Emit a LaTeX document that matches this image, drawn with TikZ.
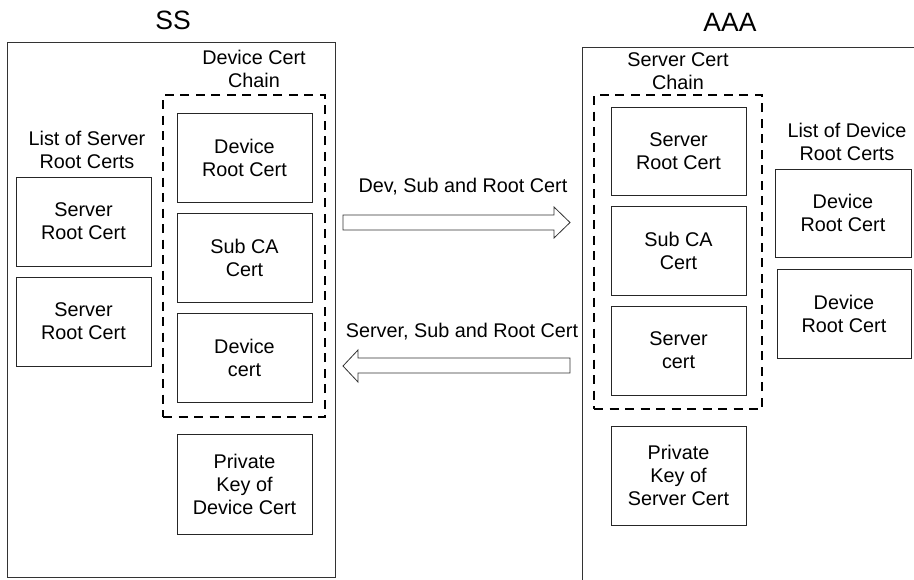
\documentclass[tikz,border=0pt]{standalone}
\usepackage{fontspec}
\setmainfont{Liberation Sans}
\begin{document}
\begin{tikzpicture}[x=1pt,y=-1pt,
  box/.style={draw=black!85, line width=0.8pt, minimum width=135pt, minimum height=89pt, inner sep=0pt, align=center, font=\fontsize{19.8}{23}\selectfont},
  lbl/.style={align=center, font=\fontsize{19.8}{23}\selectfont, inner sep=0pt},
  ttl/.style={font=\fontsize{26.5}{30}\selectfont, inner sep=0pt},
  chain/.style={draw=black, line width=1.4pt, dash pattern=on 9pt off 6.5pt, inner sep=0pt},
  panel/.style={draw=black!80, line width=0.8pt, inner sep=0pt},
  barrow/.style={draw=black!80, line width=0.8pt, fill=white}]
\useasboundingbox (0,0) rectangle (914,579);
\clip (0,0) rectangle (914,579);
\fill[white] (0,0) rectangle (914,579);
% titles
\node[ttl] (ssT) at (173,20) {SS};
\node[ttl] (aaaT) at (730,22) {AAA};
% panels
\node[panel, minimum width=328pt, minimum height=535pt] (ss) at (171,309.5) {};
\node[panel, minimum width=340pt, minimum height=560pt] (aaa) at (752,327) {};
% left side
\node[chain, minimum width=162pt, minimum height=322pt] (dchain) at (244,256) {};
\node[lbl] (dchainL) at (254,68.5) {Device Cert\\Chain};
\node[box] (drc) at (244.5,157.5) {Device\\Root Cert};
\node[box] (dsub) at (244.5,257.5) {Sub CA\\Cert};
\node[box] (dcert) at (244.5,357.5) {Device\\cert};
\node[box, minimum height=100pt] (dkey) at (244.5,484) {Private\\Key of\\Device Cert};
\node[lbl] (srlist) at (87,150) {List of Server\\Root Certs};
\node[box] (sr1) at (83.5,221.5) {Server\\Root Cert};
\node[box] (sr2) at (83.5,321.5) {Server\\Root Cert};
% right side
\node[chain, minimum width=168pt, minimum height=314pt] (schain) at (678,252) {};
\node[lbl] (schainL) at (678,71.5) {Server Cert\\Chain};
\node[box, minimum height=88pt] (src) at (678.5,151) {Server\\Root Cert};
\node[box] (ssub) at (678.5,250.5) {Sub CA\\Cert};
\node[box] (scert) at (678.5,350.5) {Server\\cert};
\node[box, minimum height=99pt] (skey) at (678.5,475.5) {Private\\Key of\\Server Cert};
\node[lbl] (drlist) at (847,141.5) {List of Device\\Root Certs};
\node[box, minimum width=136pt, minimum height=88pt] (dr1) at (843,213) {Device\\Root Cert};
\node[box, minimum width=134pt] (dr2) at (844,313.5) {Device\\Root Cert};
% block arrows
\draw[barrow] (343,215) -- (554,215) -- (554,207) -- (570,222.5) -- (554,238) -- (554,230) -- (343,230) -- cycle;
\node[lbl] (a1L) at (463,187) {Dev, Sub and Root Cert};
\draw[barrow] (570,358) -- (358,358) -- (358,350) -- (343,366) -- (358,382) -- (358,373) -- (570,373) -- cycle;
\node[lbl] (a2L) at (462,332) {Server, Sub and Root Cert};
\end{tikzpicture}
\end{document}
